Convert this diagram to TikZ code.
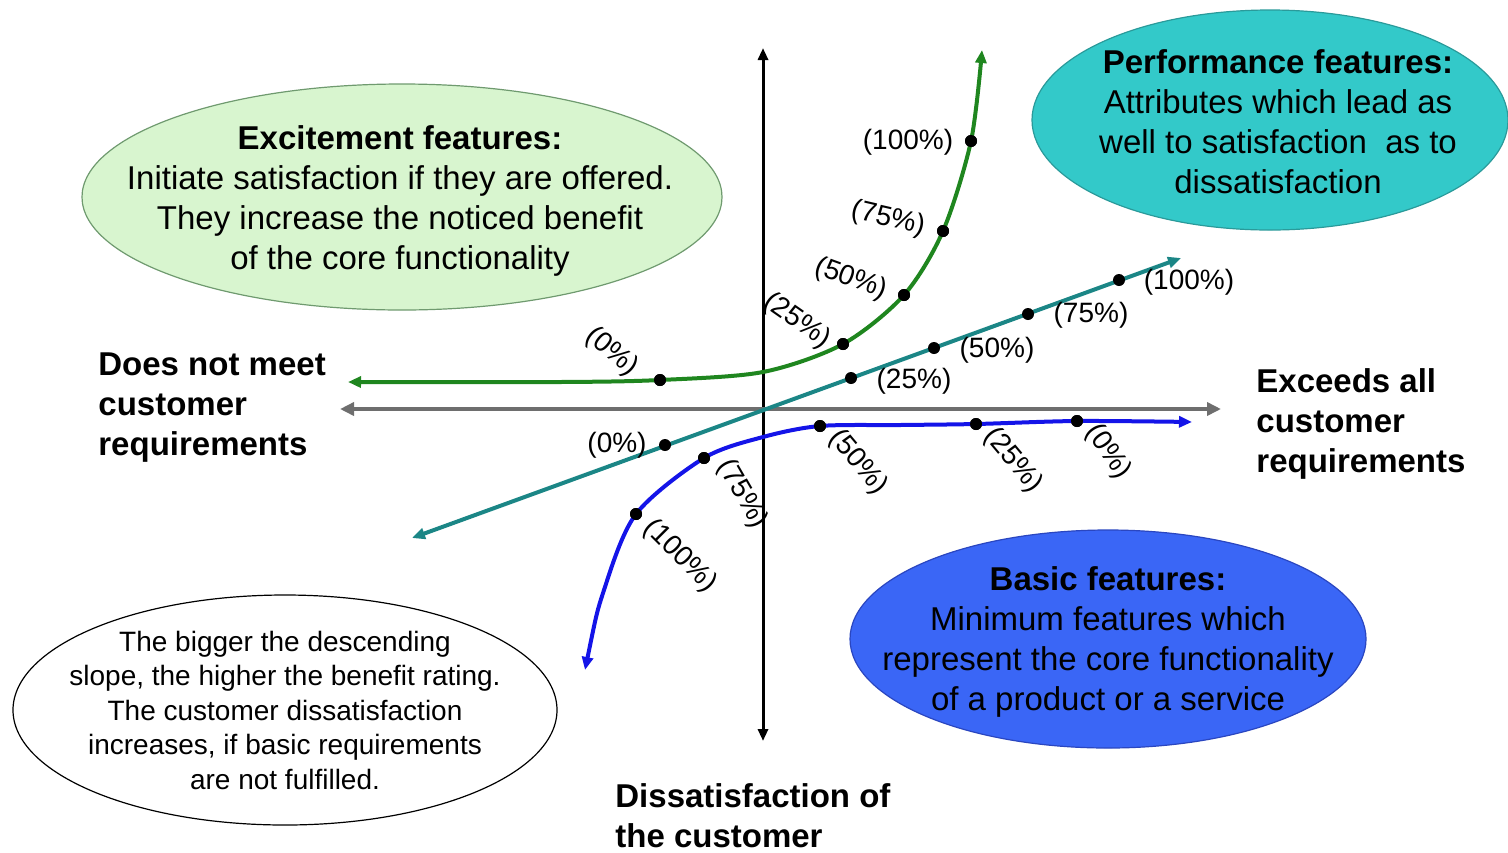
\documentclass[tikz,border=0pt]{standalone}
\usepackage{fontspec}
\setmainfont{Liberation Sans}
\usetikzlibrary{shapes.geometric,arrows.meta}
\definecolor{exfill}{HTML}{D8F5CF}
\definecolor{exdraw}{HTML}{6F9A6F}
\definecolor{perffill}{HTML}{33C9C9}
\definecolor{perfdraw}{HTML}{2A9A9A}
\definecolor{basicfill}{HTML}{3A66F6}
\definecolor{basicdraw}{HTML}{2A46C0}
\definecolor{gline}{HTML}{1F861F}
\definecolor{tline}{HTML}{1B8686}
\definecolor{bline}{HTML}{1414E8}
\definecolor{axgray}{HTML}{6E6E6E}
\begin{document}
\begin{tikzpicture}[x=0.5pt,y=-0.5pt,
  shell/.style={ellipse,inner sep=0pt,line width=0.6pt},
  bubble/.style={inner sep=0pt,align=center,font=\fontsize{16.5}{20}\selectfont},
  note/.style={inner sep=0pt,align=center,font=\fontsize{14}{17.25}\selectfont},
  pct/.style={font=\fontsize{14}{16}\selectfont,inner sep=0pt},
  dot/.style={circle,fill=black,inner sep=0pt,minimum size=6pt},
  axlab/.style={font=\fontsize{16.5}{20}\selectfont\bfseries,align=left,anchor=west,inner sep=0pt},
  curve/.style={line width=2pt,{Triangle[length=6.5pt,width=5.5pt]}-{Triangle[length=6.5pt,width=5.5pt]}},
]
\useasboundingbox (0,0) rectangle (1508,852);

% ellipses
\node[shell,fill=exfill,draw=exdraw,minimum width=320pt,minimum height=113pt] (exc) at (402,197) {};
\node[bubble] (exct) at (400,201)
  {{\bfseries Excitement features:}\\Initiate satisfaction if they are offered.\\They increase the noticed benefit\\of the core functionality};
\node[shell,fill=perffill,draw=perfdraw,minimum width=238pt,minimum height=110pt] (perf) at (1270,120) {};
\node[bubble] (perft) at (1278,122)
  {{\bfseries Performance features:}\\Attributes which lead as\\well to satisfaction\ \ as to\\dissatisfaction};
\node[shell,fill=basicfill,draw=basicdraw,minimum width=258pt,minimum height=109pt] (basic) at (1108,639) {};
\node[bubble] (basict) at (1108,642)
  {{\bfseries Basic features:}\\Minimum features which\\represent the core functionality\\of a product or a service};
\node[shell,fill=white,draw=black,minimum width=272pt,minimum height=115pt] (note) at (285,710) {};
\node[note] (notet) at (note.center)
  {The bigger the descending\\slope, the higher the benefit rating.\\The customer dissatisfaction\\increases, if basic requirements\\are not fulfilled.};

% axis labels
\node[axlab] (left) at (98,408) {Does not meet\\customer\\requirements};
\node[axlab] (right) at (1256,424) {Exceeds all\\customer\\requirements};
\node[axlab] (bottom) at (615,816) {Dissatisfaction of\\the customer};

% axes
\coordinate (vT) at (763,48);
\coordinate (vB) at (763,741);
\coordinate (hL) at (340,409);
\coordinate (hR) at (1221,409);
\draw[line width=1.5pt,{Triangle[length=6pt,width=5pt]}-{Triangle[length=6pt,width=5pt]}] (vB) -- (vT);
\draw[axgray,line width=2.2pt,{Triangle[length=7pt,width=6.5pt]}-{Triangle[length=7pt,width=6.5pt]}] (hL) -- (hR);

% performance line (teal)
\coordinate (tL) at (412,538);
\coordinate (tR) at (1181,258);
\draw[curve,tline] (tL) -- (tR);
\node[dot] (t0) at (665,445) {};
\node[dot] (t25) at (851,378) {};
\node[dot] (t50) at (934,348) {};
\node[dot] (t75) at (1028,314) {};
\node[dot] (t100) at (1119,280) {};
\node[pct] (lt0) at (617,445) {(0\%)};
\node[pct] (lt25) at (914,381) {(25\%)};
\node[pct] (lt50) at (997,350) {(50\%)};
\node[pct] (lt75) at (1091,315) {(75\%)};
\node[pct] (lt100) at (1189,282) {(100\%)};

% excitement curve (green)
\coordinate (gL) at (348,382);
\coordinate (g1) at (560,382);
\coordinate (gm) at (763,372);
\coordinate (gT) at (982,50);
\node[dot] (g0) at (660,380) {};
\node[dot] (g25) at (843,344) {};
\node[dot] (g50) at (904,295) {};
\node[dot] (g75) at (943,231) {};
\node[dot] (g100) at (971,141) {};
\draw[curve,gline] plot[smooth,tension=0.5] coordinates {(gL) (g1) (g0.center) (gm) (g25.center) (g50.center) (g75.center) (g100.center) (gT)};
\foreach \n in {g0,g25,g50,g75,g100} \node[dot] at (\n) {};
\node[pct,rotate=-40] (lg0) at (612,352) {(0\%)};
\node[pct,rotate=-35] (lg25) at (797,321) {(25\%)};
\node[pct,rotate=-20] (lg50) at (851,279) {(50\%)};
\node[pct,rotate=-13] (lg75) at (888,219) {(75\%)};
\node[pct] (lg100) at (908,142) {(100\%)};

% basic curve (blue)
\coordinate (bB) at (585,670);
\coordinate (b1) at (604,590);
\coordinate (bm) at (763,437);
\coordinate (b2) at (900,425);
\coordinate (bR) at (1192,422);
\node[dot] (b100) at (636,514) {};
\node[dot] (b75) at (704,458) {};
\node[dot] (b50) at (820,426) {};
\node[dot] (b25) at (976,424) {};
\node[dot] (b0) at (1077,421) {};
\draw[curve,bline] plot[smooth,tension=0.5] coordinates {(bB) (b1) (b100.center) (b75.center) (bm) (b50.center) (b2) (b25.center) (b0.center) (bR)};
\foreach \n in {b100,b75,b50,b25,b0} \node[dot] at (\n) {};
\node[pct,rotate=-50] (lb50) at (858,462) {(50\%)};
\node[pct,rotate=-50] (lb25) at (1013,460) {(25\%)};
\node[pct,rotate=-55] (lb0) at (1108,452) {(0\%)};
\node[pct,rotate=-60] (lb75) at (742,494) {(75\%)};
\node[pct,rotate=-45] (lb100) at (680,556) {(100\%)};
\end{tikzpicture}
\end{document}
